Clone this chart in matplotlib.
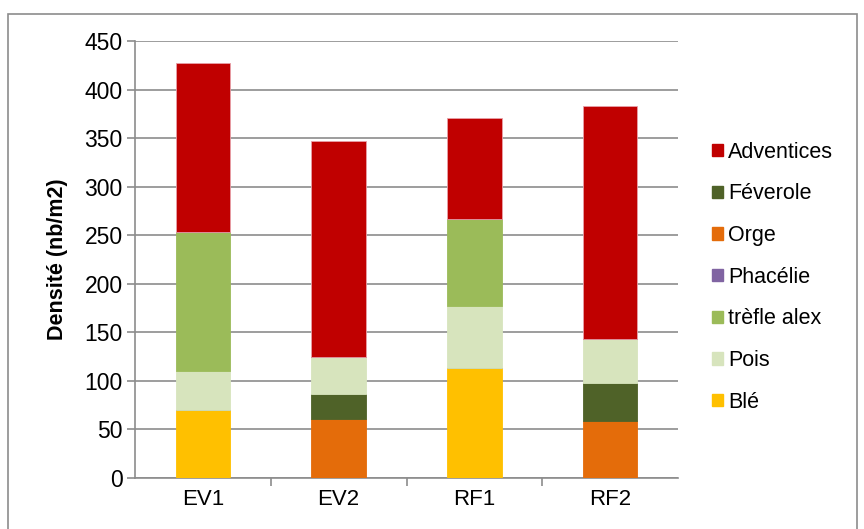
import numpy as np
import matplotlib
matplotlib.use("Agg")
import matplotlib.pyplot as plt
from matplotlib.patches import Patch, Rectangle

plt.rcParams['font.family'] = ['Liberation Sans', 'DejaVu Sans']

sites = ["EV1", "EV2", "RF1", "RF2"]

# stacking order, bottom to top
ble = [70, 0, 113, 0]
orge = [0, 61, 0, 59]
feverole = [0, 25, 0, 39]
pois = [40, 39, 64, 45]
trefle = [143, 0, 90, 0]
phacelie = [0, 0, 0, 0]
adventices = [174, 222, 104, 240]

series = [
    ("Blé", ble, "#FFC000"),
    ("Orge", orge, "#E46C0A"),
    ("Féverole", feverole, "#4F6228"),
    ("Pois", pois, "#D7E4BD"),
    ("trèfle alex", trefle, "#9BBB59"),
    ("Phacélie", phacelie, "#8064A2"),
    ("Adventices", adventices, "#C00000"),
]
legend_order = ["Adventices", "Féverole", "Orge", "Phacélie", "trèfle alex", "Pois", "Blé"]

fig = plt.figure(figsize=(8.64, 5.29), dpi=100)
ax = fig.add_axes([135 / 864, 1 - 478 / 529, 543 / 864, 437 / 529])

x = np.arange(len(sites))
bottom = np.zeros(len(sites))
colors = {}
for name, vals, col in series:
    vals = np.array(vals, dtype=float)
    edge = "#E8A0A8" if name == "Adventices" else col
    ax.bar(x, vals, 0.4, bottom=bottom, color=col, edgecolor=edge,
           linewidth=0.6, zorder=3)
    bottom += vals
    colors[name] = col

ax.set_xlim(-0.5, 3.5)
ax.set_ylim(0, 450)
ax.set_yticks(np.arange(0, 451, 50))
ax.yaxis.grid(True, color="#8C8C8C", linewidth=1.2, zorder=0)
ax.set_axisbelow(True)

ax.set_xticks(x)
ax.set_xticklabels(sites, fontsize=16)
ax.set_xticks(np.arange(0.5, 3.5, 1), minor=True)
ax.tick_params(axis="x", which="major", length=0, pad=8)
ax.tick_params(axis="x", which="minor", length=6, width=1.2, color="#8C8C8C")
ax.tick_params(axis="y", length=6, width=1.2, color="#8C8C8C", labelsize=16.5, pad=3)

for s in ["top", "right"]:
    ax.spines[s].set_visible(False)
for s in ["left", "bottom"]:
    ax.spines[s].set_color("#8C8C8C")
    ax.spines[s].set_linewidth(1.2)

ax.set_ylabel("Densité (nb/m2)", fontsize=15.5, fontweight="bold", labelpad=12)

handles = [Patch(facecolor=colors[n], edgecolor=colors[n]) for n in legend_order]
fig.legend(handles, legend_order, loc="upper left",
           bbox_to_anchor=(701 / 864, 1 - 131 / 529), frameon=False,
           fontsize=15.5, handlelength=0.5, handleheight=0.5,
           handletextpad=0.25, labelspacing=0.96, borderpad=0)

fig.patches.append(Rectangle((8 / 864, -0.1), 849 / 864, 1.1 - 14 / 529,
                             transform=fig.transFigure, fill=False,
                             edgecolor="#8C8C8C", linewidth=1.2))

fig.savefig("out.png", dpi=100)
